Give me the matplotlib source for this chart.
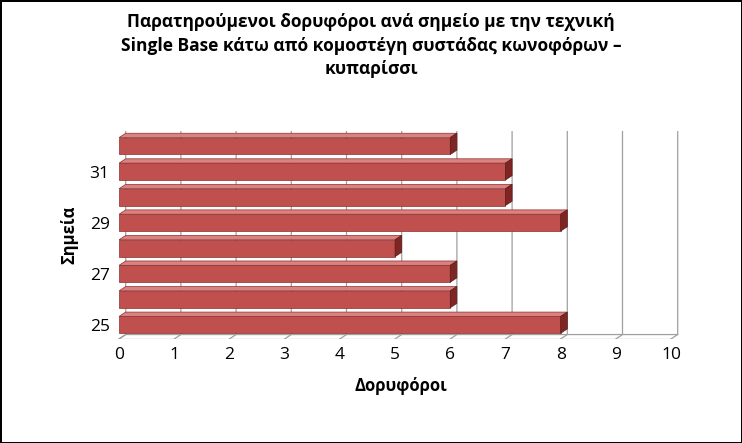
import matplotlib
matplotlib.use("Agg")
import matplotlib.pyplot as plt
from matplotlib.patches import Polygon

plt.rcParams['font.family'] = ['Open Sans', 'DejaVu Sans']

points = [25, 26, 27, 28, 29, 30, 31, 32]
satellites = [8, 6, 6, 5, 8, 7, 7, 6]
tick_points = [25, 27, 29, 31]

fig = plt.figure(figsize=(7.42, 4.43), dpi=100)
fig.patch.set_edgecolor('black')
fig.patch.set_linewidth(2)
ax = fig.add_axes([0.159, 0.235, 0.764, 0.47])

dx, dy = 0.12, 0.17   # pseudo depth
h = 0.66
for x in range(0, 11):
    ax.plot([x, x + dx, x + dx], [24.45, 24.45 + dy, 32.6], color='#a0a0a0', lw=0.9, zorder=0)
ax.plot([0, dx, 10 + dx], [24.45, 24.45 + dy, 24.45 + dy], color='#a0a0a0', lw=0.9, zorder=0)
ax.plot([0, 10], [24.45, 24.45], color='#a0a0a0', lw=0.9, zorder=0)

for p, v in zip(points, satellites):
    y0, y1 = p - h / 2, p + h / 2
    ax.barh(p, v, height=h, color='#c0504d', edgecolor='#8c2e2c', lw=0.5, zorder=2)
    ax.add_patch(Polygon([(0, y1), (dx, y1 + dy), (v + dx, y1 + dy), (v, y1)],
                         closed=True, fc='#d9827f', ec='#8c2e2c', lw=0.5, zorder=2))
    ax.add_patch(Polygon([(v, y0), (v + dx, y0 + dy), (v + dx, y1 + dy), (v, y1)],
                         closed=True, fc='#7e2623', ec='#5a1a18', lw=0.5, zorder=2))

ax.set_xlim(-0.02, 10.25)
ax.set_ylim(24.45, 32.6)
ax.set_xticks(range(0, 11))
ax.set_yticks(tick_points)
ax.tick_params(length=0, labelsize=12.5, pad=6)
for s in ax.spines.values():
    s.set_visible(False)
ax.set_xlabel('Δορυφόροι', fontsize=12, fontweight='bold', labelpad=10)
ax.set_ylabel('Σημεία', fontsize=12, fontweight='bold', labelpad=8)
fig.suptitle('Παρατηρούμενοι δορυφόροι ανά σημείο με την τεχνική\n'
             'Single Base κάτω από κομοστέγη συστάδας κωνοφόρων –\nκυπαρίσσι',
             fontsize=12.5, fontweight='bold', y=0.97, linespacing=1.4)
fig.savefig('out.png', dpi=100)
